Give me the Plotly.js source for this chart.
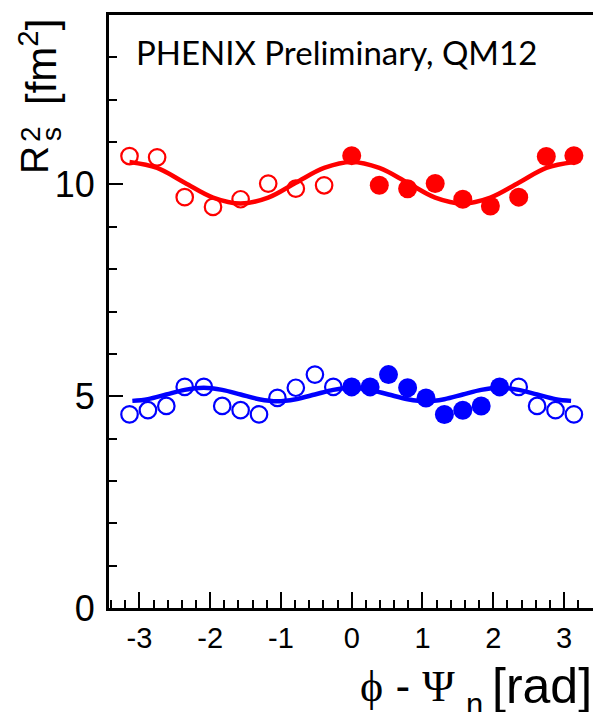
<!DOCTYPE html>
<html>
<head>
<meta charset="utf-8">
<script src="https://cdn.plot.ly/plotly-3.0.1.min.js"></script>
<style>html,body{margin:0;padding:0;background:#fff;overflow:hidden;}</style>
</head>
<body>
<div id="chart" style="width:593px;height:712px;"></div>
<script>
// ---- data ----
var redOpenX   = [-3.14, -2.75, -2.36, -1.96, -1.57, -1.18, -0.79, -0.39];
var redOpenY   = [10.67, 10.64, 9.70, 9.47, 9.65, 10.02, 9.90, 9.98];
var redFillX   = [0.00, 0.39, 0.79, 1.18, 1.57, 1.96, 2.36, 2.75, 3.14];
var redFillY   = [10.68, 9.98, 9.90, 10.02, 9.65, 9.49, 9.70, 10.66, 10.68];

var blueOpenX  = [-3.14, -2.88, -2.62, -2.36, -2.09, -1.83, -1.57, -1.31, -1.05, -0.79, -0.52, -0.26, 2.36, 2.62, 2.88, 3.14];
var blueOpenY  = [4.57, 4.67, 4.77, 5.22, 5.22, 4.77, 4.67, 4.57, 4.96, 5.20, 5.51, 5.22, 5.22, 4.77, 4.67, 4.57];
var blueFillX  = [0.00, 0.26, 0.52, 0.79, 1.05, 1.31, 1.57, 1.83, 2.09];
var blueFillY  = [5.22, 5.22, 5.51, 5.20, 4.96, 4.57, 4.67, 4.77, 5.22];

var redFitX  = [-3.14, -2.75, -2.36, -1.96, -1.57, -1.18, -0.79, -0.39, 0.00, 0.39, 0.79, 1.18, 1.57, 1.96, 2.36, 2.75, 3.14];
var redFitY  = [10.53, 10.39, 10.04, 9.69, 9.55, 9.69, 10.04, 10.39, 10.53, 10.39, 10.04, 9.69, 9.55, 9.69, 10.04, 10.39, 10.53];
var blueFitX = [-3.10, -2.88, -2.62, -2.36, -2.09, -1.83, -1.57, -1.31, -1.05, -0.79, -0.52, -0.26, 0.00, 0.26, 0.52, 0.79, 1.05, 1.31, 1.57, 1.83, 2.09, 2.36, 2.62, 2.88, 3.10];
var blueFitY = [4.89, 4.93, 5.04, 5.15, 5.20, 5.15, 5.04, 4.93, 4.88, 4.93, 5.04, 5.15, 5.20, 5.15, 5.04, 4.93, 4.88, 4.93, 5.04, 5.15, 5.20, 5.15, 5.04, 4.93, 4.89];

var yTickVals = [0, 5, 10];
var yTickText = ["0", "5", "10"];
var xTickVals = [-3, -2, -1, 0, 1, 2, 3];
var xTickText = ["-3", "-2", "-1", "0", "1", "2", "3"];

var label = "PHENIX Preliminary, QM12";

// ---- layout helpers (pixel -> paper) ----
var L = 109, R = 593, T = 15, B = 608;
function px(x) { return (x - L) / (R - L); }
function py(y) { return (B - y) / (B - T); }

var RED = "#ff0000", BLUE = "#0000ff";

function openTrace(x, y, c) {
  return {x: x, y: y, type: "scatter", mode: "markers", cliponaxis: false,
    marker: {symbol: "circle-open", size: 16.5, color: c, line: {width: 2.2, color: c}},
    hoverinfo: "skip"};
}
function fillTrace(x, y, c) {
  return {x: x, y: y, type: "scatter", mode: "markers", cliponaxis: false,
    marker: {symbol: "circle", size: 19, color: c, line: {width: 0}},
    hoverinfo: "skip"};
}
function fitTrace(x, y, c) {
  return {x: x, y: y, type: "scatter", mode: "lines",
    line: {color: c, width: 4.5, shape: "spline", smoothing: 1.0},
    hoverinfo: "skip"};
}

var data = [
  openTrace(redOpenX, redOpenY, RED),
  fillTrace(redFillX, redFillY, RED),
  openTrace(blueOpenX, blueOpenY, BLUE),
  fillTrace(blueFillX, blueFillY, BLUE),
  fitTrace(redFitX, redFitY, RED),
  fitTrace(blueFitX, blueFitY, BLUE)
];

var serifFam = "Liberation Serif, DejaVu Serif, serif";
var sans = "'Liberation Sans', Arial, sans-serif";

var layout = {
  width: 593, height: 712,
  margin: {l: L, r: 0, t: T, b: 712 - B, pad: 0},
  paper_bgcolor: "#ffffff", plot_bgcolor: "#ffffff",
  showlegend: false,
  xaxis: {
    range: [-3.43, 3.41], showgrid: false, zeroline: false,
    showline: true, linecolor: "#000", linewidth: 3, mirror: true,
    ticks: "inside", ticklen: 16, tickwidth: 2, tickcolor: "#000",
    tickvals: xTickVals, ticktext: xTickText,
    ticklabelstandoff: 2,
    tickfont: {family: sans, size: 29, color: "#000"},
    minor: {dtick: 0.2, tick0: 0, ticks: "inside", ticklen: 8, tickwidth: 2, tickcolor: "#000", showgrid: false}
  },
  yaxis: {
    range: [0, 14], showgrid: false, zeroline: false,
    showline: true, linecolor: "#000", linewidth: 3,
    ticks: "inside", ticklen: 14, tickwidth: 2, tickcolor: "#000",
    tickvals: yTickVals, ticktext: yTickText,
    ticklabelstandoff: 4,
    tickfont: {family: sans, size: 36, color: "#000"},
    minor: {dtick: 1, tick0: 0, ticks: "inside", ticklen: 8, tickwidth: 2, tickcolor: "#000", showgrid: false}
  },
  annotations: [
    {text: label, xref: "paper", yref: "paper", x: px(336), y: py(52), xanchor: "center", yanchor: "middle",
     showarrow: false, font: {family: "Lato, 'Open Sans', sans-serif", size: 33, color: "#000"}},
    // y title pieces (rotated)
    {text: "R", xref: "paper", yref: "paper", x: px(34), y: py(160), xanchor: "center", yanchor: "middle",
     textangle: -90, showarrow: false, font: {family: sans, size: 39, color: "#000"}},
    {text: "2", xref: "paper", yref: "paper", x: px(30), y: py(134), xanchor: "center", yanchor: "middle",
     textangle: -90, showarrow: false, font: {family: sans, size: 28, color: "#000"}},
    {text: "s", xref: "paper", yref: "paper", x: px(51), y: py(134), xanchor: "center", yanchor: "middle",
     textangle: -90, showarrow: false, font: {family: sans, size: 28, color: "#000"}},
    {text: "[fm<sup>2</sup>]", xref: "paper", yref: "paper", x: px(38), y: py(62), xanchor: "center", yanchor: "middle",
     textangle: -90, showarrow: false, font: {family: sans, size: 42, color: "#000"}},
    // x title pieces
    {text: "<span style=\"font-family:" + serifFam + "\">\u03D5</span> - <span style=\"font-family:" + serifFam + "\">\u03A8</span>",
     xref: "paper", yref: "paper", x: px(457), y: py(686), xanchor: "right", yanchor: "middle",
     showarrow: false, font: {family: sans, size: 44, color: "#000"}},
    {text: "n", xref: "paper", yref: "paper", x: px(474), y: py(704), xanchor: "center", yanchor: "middle",
     showarrow: false, font: {family: sans, size: 31, color: "#000"}},
    {text: "[rad]", xref: "paper", yref: "paper", x: px(490), y: py(686), xanchor: "left", yanchor: "middle",
     showarrow: false, font: {family: sans, size: 50, color: "#000"}}
  ]
};

Plotly.newPlot("chart", data, layout, {displayModeBar: false, staticPlot: true});
</script>
</body>
</html>
